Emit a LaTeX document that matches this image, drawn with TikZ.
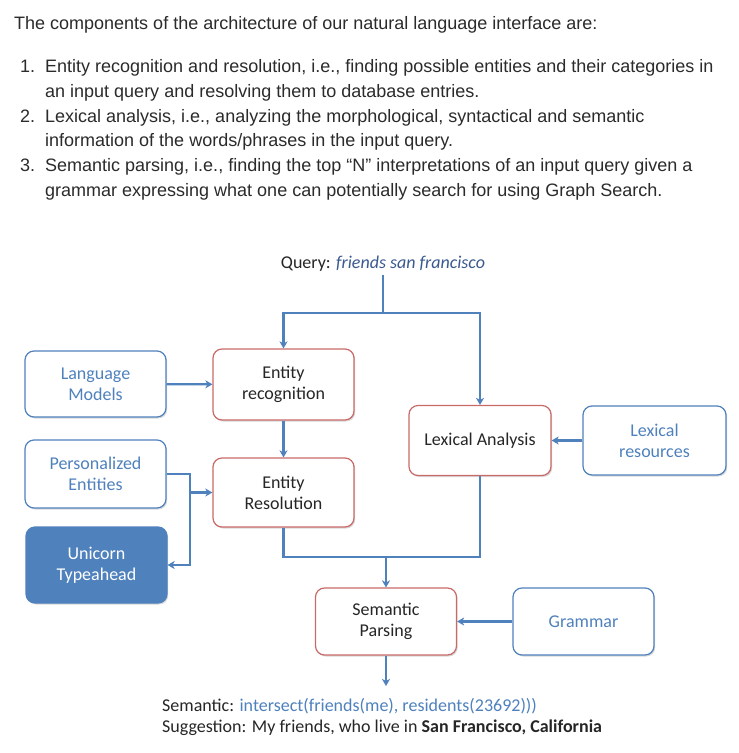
\documentclass[tikz,border=0pt]{standalone}
\usepackage{fontspec}
\setmainfont{Liberation Sans}
\newfontfamily\calfont{Carlito}
\usetikzlibrary{arrows.meta,shadows}
\definecolor{offblue}{HTML}{4F81BD}
\definecolor{offred}{HTML}{C0504D}
\definecolor{qblue}{HTML}{3A5A8F}
\definecolor{bodytext}{HTML}{2B2B2B}
\tikzset{
	box/.style={rounded corners=9pt, fill=white, line width=1.2pt, minimum width=141pt, align=center,
		font=\calfont\fontsize{18}{21}\selectfont,
		drop shadow={shadow xshift=1.2pt, shadow yshift=-1.5pt, fill=black, opacity=0.15}},
	redbox/.style={box, draw=offred!85, text=black!85},
	bluebox/.style={box, draw=offblue, text=offblue},
	fillbox/.style={box, draw=offblue, fill=offblue, text=white},
	link/.style={draw=offblue, line width=2.2pt},
	arr/.style={link, -{Stealth[length=7pt,width=8pt,inset=2pt]}},
	listline/.style={anchor=base west, inner sep=0pt, font=\fontsize{18}{20}\selectfont, text=bodytext},
	plain/.style={anchor=base west, inner sep=0pt, font=\calfont\fontsize{18}{21}\selectfont, text=black!85},
}
\begin{document}
\begin{tikzpicture}[x=1pt,y=-1pt]
		\useasboundingbox[fill=white] (0,0) rectangle (739,753);
		% introduction text
		\node[listline] (intro) at (14,29) {The components of the architecture of our natural language interface are:};
		\node[listline] (n1) at (20,72.5) {1.};
		\node[listline] (t1a) at (45,72.5) {Entity recognition and resolution, i.e., finding possible entities and their categories in};
		\node[listline] (t1b) at (45,97.25) {an input query and resolving them to database entries.};
		\node[listline] (n2) at (20,122) {2.};
		\node[listline] (t2a) at (45,122) {Lexical analysis, i.e., analyzing the morphological, syntactical and semantic};
		\node[listline] (t2b) at (45,146.75) {information of the words/phrases in the input query.};
		\node[listline] (n3) at (20,171.5) {3.};
		\node[listline] (t3a) at (45,171.5) {Semantic parsing, i.e., finding the top \char"201CN\char"201D{} interpretations of an input query given a};
		\node[listline] (t3b) at (45,196.25) {grammar expressing what one can potentially search for using Graph Search.};
		% boxes
		\node[font=\calfont\fontsize{18}{21}\selectfont, text=black!85, inner sep=3pt] (query) at (383,264) {Query: \textit{\color{qblue}friends san francisco}};
		\node[bluebox, minimum height=66pt] (langmod) at (95.5,384) {Language\\Models};
		\node[redbox, minimum height=71pt] (entrec) at (283.5,384.5) {Entity\\recognition};
		\node[bluebox, minimum height=68pt] (persent) at (95.5,474) {Personalized\\Entities};
		\node[redbox, minimum height=69pt] (entres) at (283.5,492.5) {Entity\\Resolution};
		\node[fillbox, minimum height=76pt] (unicorn) at (96.5,565) {Unicorn\\Typeahead};
		\node[redbox, minimum height=70pt, minimum width=142pt] (lexana) at (480,440.5) {Lexical Analysis};
		\node[bluebox, minimum height=69pt, minimum width=143pt] (lexres) at (654.5,440.5) {Lexical\\resources};
		\node[redbox, minimum height=67pt] (sempar) at (386,621.5) {Semantic\\Parsing};
		\node[bluebox, minimum height=67pt] (grammar) at (583.5,621.5) {Grammar};
		% connectors
		\coordinate (qsplit) at (383,313);
		\coordinate (pturn) at (190,474);
		\coordinate (pbranch) at (190,492.5);
		\coordinate (merge) at (386,557);
		\coordinate (result) at (386,686);
		\draw[link] (query.south) -- (qsplit);
		\draw[arr] (qsplit) -| (entrec.north);
		\draw[arr] (qsplit) -| (lexana.north);
		\draw[arr] (langmod) -- (entrec);
		\draw[arr] (entrec) -- (entres);
		\draw[arr, line width=1.8pt] (persent.east) -- (pturn) |- (unicorn.east);
		\draw[arr, line width=2.6pt] (pbranch) -- (entres.west);
		\draw[link] (entres.south) |- (merge);
		\draw[link] (lexana.south) |- (merge);
		\draw[arr] (merge) -- (sempar.north);
		\draw[arr] (lexres) -- (lexana);
		\draw[arr] (grammar) -- (sempar);
		\draw[arr] (sempar.south) -- (result);
		% output text
		\node[plain] (semout) at (162,711.5) {Semantic: {\color{offblue}intersect(friends(me), residents(23692)))}};
		\node[plain] (suggest) at (162,732.5) {Suggestion: My friends, who live in \textbf{San Francisco, California}};
	\end{tikzpicture}
\end{document}
